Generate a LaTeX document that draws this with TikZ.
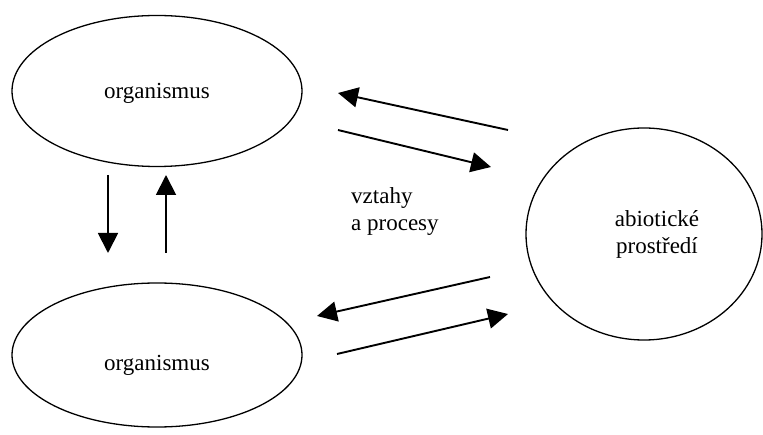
\documentclass[tikz,border=0pt]{standalone}
\usepackage{fontspec}
\setmainfont{Liberation Serif}
\usetikzlibrary{shapes.geometric,arrows.meta}
\begin{document}
\begin{tikzpicture}[x=1pt,y=-1pt,
  oval/.style={draw=black,line width=1.3pt,ellipse,inner sep=0pt},
  lbl/.style={font=\rmfamily\fontsize{23}{27}\selectfont,inner sep=0pt},
  flow/.style={line width=1.9pt,-{Triangle[length=20pt,width=20pt]}}]
\useasboundingbox (0,0) rectangle (763,435);
\fill[white] (0,0) rectangle (763,435);
\node[oval,minimum width=290pt,minimum height=151pt] (org1) at (157,91) {};
\node[lbl] (t1) at (157,93) {organismus};
\node[oval,minimum width=290pt,minimum height=144pt] (org2) at (157,355) {};
\node[lbl] (t2) at (157,365) {organismus};
\node[oval,minimum width=236pt,minimum height=212pt] (abio) at (644,234) {};
\node[lbl,align=center] (t3) at (657,234) {abiotické\\prostředí};
\node[lbl,align=left,anchor=west] (t4) at (351,212) {vztahy\\a procesy};
% arrow endpoints
\coordinate (a1s) at (508,130); \coordinate (a1e) at (338,93);
\coordinate (a2s) at (338,130); \coordinate (a2e) at (491,167);
\coordinate (a3s) at (490,277); \coordinate (a3e) at (317,316);
\coordinate (a4s) at (337,354); \coordinate (a4e) at (508,314);
\coordinate (a5s) at (108,175); \coordinate (a5e) at (108,253);
\coordinate (a6s) at (166,253); \coordinate (a6e) at (166,175);
\draw[flow] (a1s) -- (a1e);
\draw[flow] (a2s) -- (a2e);
\draw[flow] (a3s) -- (a3e);
\draw[flow] (a4s) -- (a4e);
\draw[flow] (a5s) -- (a5e);
\draw[flow] (a6s) -- (a6e);
\end{tikzpicture}
\end{document}
